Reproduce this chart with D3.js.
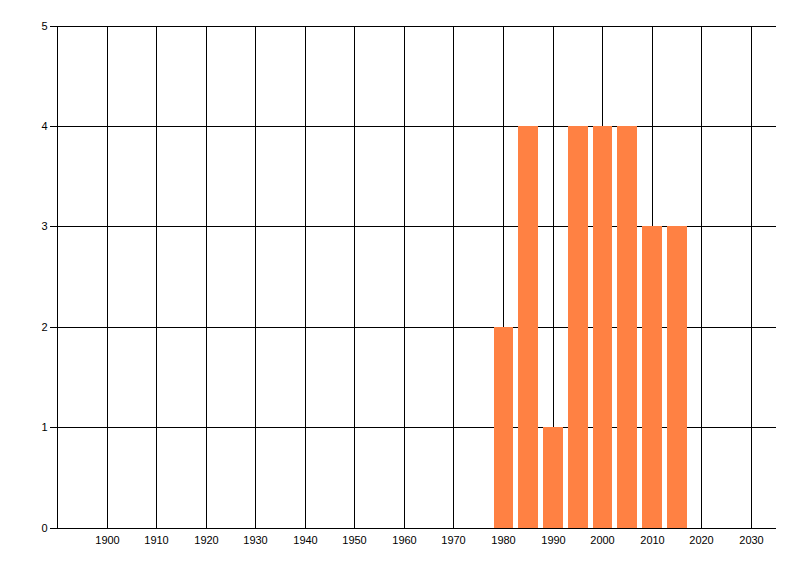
<!DOCTYPE html>
<html>
<head>
<meta charset="utf-8">
<script src="https://cdn.jsdelivr.net/npm/d3@7"></script>
<style>
    body { margin: 0; background: #fff; }
    svg { display: block; }
    .tick text { font-family: "Liberation Sans", Arial, sans-serif; font-size: 11px; fill: #000; }
</style>
</head>
<body>
<div id="chart"></div>
<script>
const years = [1980, 1985, 1990, 1995, 2000, 2005, 2010, 2015];
const counts = [2, 4, 1, 4, 4, 4, 3, 3];
const xTicks = [1900, 1910, 1920, 1930, 1940, 1950, 1960, 1970, 1980, 1990, 2000, 2010, 2020, 2030];
const yTicks = [0, 1, 2, 3, 4, 5];

const width = 800, height = 576;
const plot = { left: 57.5, right: 776, top: 26, bottom: 528 };
const barYears = 4;

const svg = d3.select("#chart").append("svg")
    .attr("width", width)
    .attr("height", height);

const x = d3.scaleLinear().domain([1890, 2035]).range([plot.left, plot.right]);
const y = d3.scaleLinear().domain([0, 5]).range([plot.bottom, plot.top]);

// snap a value onto the middle of a pixel so 1px lines stay sharp
const px = v => Math.floor(v) + 0.5;

// grid
const grid = svg.append("g")
    .attr("stroke", "#000")
    .attr("stroke-width", 1)
    .attr("shape-rendering", "crispEdges");

grid.selectAll(".vline").data(xTicks).join("line")
    .attr("class", "vline")
    .attr("x1", d => px(x(d)))
    .attr("x2", d => px(x(d)))
    .attr("y1", px(plot.top))
    .attr("y2", px(plot.bottom));

grid.selectAll(".hline").data(yTicks.filter(d => d > 0)).join("line")
    .attr("class", "hline")
    .attr("x1", px(plot.left))
    .attr("x2", plot.right)
    .attr("y1", d => px(y(d)))
    .attr("y2", d => px(y(d)));

// bars sit on top of the grid
svg.append("g")
    .selectAll("rect").data(years).join("rect")
    .attr("x", d => x(d - barYears / 2))
    .attr("width", x(barYears) - x(0))
    .attr("y", (d, i) => Math.floor(y(counts[i])))
    .attr("height", (d, i) => Math.floor(y(0)) - Math.floor(y(counts[i])))
    .attr("fill", "#ff8143")
    .attr("shape-rendering", "crispEdges");

// y axis
const yAxis = svg.append("g")
    .attr("transform", `translate(${px(plot.left)},0)`)
    .call(d3.axisLeft(y).tickValues(yTicks).tickSize(8).tickPadding(2).tickFormat(d3.format("d")));
yAxis.selectAll(".tick").attr("transform", d => `translate(0,${px(y(d))})`);
yAxis.selectAll("line, path").attr("stroke", "#000").attr("shape-rendering", "crispEdges");
yAxis.select(".domain").attr("d", `M0,${px(plot.top)}V${px(plot.bottom)}`);

// x axis, no tick marks below the line
const xAxis = svg.append("g")
    .attr("transform", `translate(0,${px(plot.bottom)})`)
    .call(d3.axisBottom(x).tickValues(xTicks).tickSize(0).tickPadding(8).tickFormat(d3.format("d")));
xAxis.selectAll(".tick").attr("transform", d => `translate(${px(x(d))},0)`);
xAxis.selectAll("path").attr("stroke", "#000").attr("shape-rendering", "crispEdges");
xAxis.select(".domain").attr("d", `M${px(plot.left)},0H${plot.right}`);
</script>
</body>
</html>
